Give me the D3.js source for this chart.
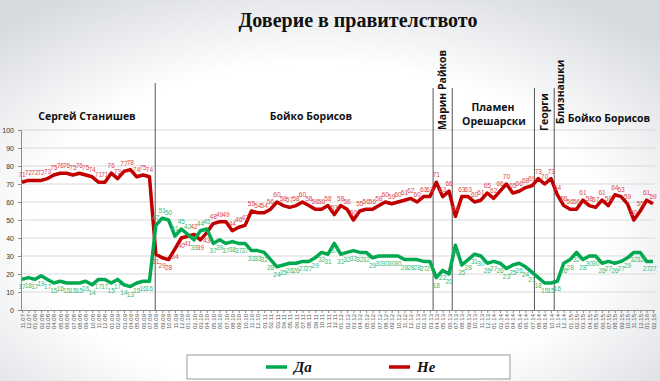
<!DOCTYPE html>
<html><head><meta charset="utf-8">
<script src="https://cdn.jsdelivr.net/npm/d3@7"></script>
<style>body{margin:0;background:#fff}svg{display:block}</style>
</head><body>
<svg id="c" width="660" height="381"></svg>
<script>
const chartTitle = "Доверие в правителството";
const seriesNames = ["Да", "Не"];
const months = [
 "11.07","12.07",
 "01.08","02.08","03.08","04.08","05.08","06.08","07.08","08.08","09.08","10.08","11.08","12.08",
 "01.09","02.09","03.09","04.09","05.09","06.09","07.09","08.09","09.09","10.09","11.09","12.09",
 "01.10","02.10","03.10","04.10","05.10","06.10","07.10","08.10","09.10","10.10","11.10","12.10",
 "01.11","02.11","03.11","04.11","05.11","06.11","07.11","08.11","09.11","10.11","11.11","12.11",
 "01.12","02.12","03.12","04.12","05.12","06.12","07.12","08.12","09.12","10.12","11.12","12.12",
 "01.13","02.13","03.13","04.13","05.13","06.13","07.13","08.13","09.13","10.13","11.13","12.13",
 "01.14","02.14","03.14","04.14","05.14","06.14","07.14","08.14","09.14","10.14","11.14","12.14",
 "01.15","02.15","03.15","04.15","05.15","06.15","07.15","08.15","09.15","10.15","11.15","12.15",
 "01.16","02.16"
];
const yesValues = [
 17,18,17,19,17,15,16,15,15,15,16,14,17,17,15,17,14,13,15,16,16,
 47,51,50,41,45,42,39,44,45,37,39,37,38,37,37,33,33,32,28,24,25,26,26,27,27,29,32,31,37,31,32,33,32,32,29,30,30,30,30,28,28,28,27,27,
 18,22,20,
 36,25,28,31,30,26,27,26,23,25,26,24,21,
 18,15,15,
 16,26,28,32,28,30,30,26,27,26,27,29,32,32,27,27
];
const noValues = [
 71,72,72,72,73,75,76,76,75,76,75,74,71,71,76,73,77,78,74,75,74,
 31,29,28,34,40,41,42,39,43,48,49,49,44,46,47,55,54,54,56,60,58,57,58,60,58,56,56,58,53,58,56,50,55,56,56,58,60,59,60,61,62,60,63,63,
 71,63,66,
 52,63,63,60,61,65,62,66,70,65,66,68,69,
 73,70,73,
 64,58,56,56,61,58,57,61,58,64,63,59,50,55,61,59
];
const yTicks = [0,10,20,30,40,50,60,70,80,90,100];
const dividerPositions = [20.9, 64.5, 67.5, 80.4, 83.5];
const leaderLabels = ["Сергей Станишев", "Бойко Борисов", "Марин Райков", "Пламен", "Орешарски", "Георги", "Близнашки", "Бойко Борисов"];

const GREEN = "#00a94f", RED = "#c00000";
const svg = d3.select("#c");
const defs = svg.append("defs");
const rg = defs.append("radialGradient").attr("id","bg").attr("cx","48%").attr("cy","60%").attr("r","72%");
rg.append("stop").attr("offset","60%").attr("stop-color","#ffffff");
rg.append("stop").attr("offset","100%").attr("stop-color","#d6d9de");
svg.append("rect").attr("width",660).attr("height",381).attr("fill","url(#bg)");

const x = d3.scaleLinear().domain([0, months.length - 1]).range([22, 653]);
const y = d3.scaleLinear().domain([0, 100]).range([310, 130]);

// grid
svg.append("g").selectAll("line").data(yTicks.filter(v => v > 0)).join("line")
  .attr("x1", 21).attr("x2", 655).attr("y1", d => y(d)).attr("y2", d => y(d))
  .attr("stroke", "#d9d9d9").attr("stroke-width", 1);

// y axis
const ya = svg.append("g").attr("transform", "translate(21,0)")
  .call(d3.axisLeft(y).tickValues(yTicks).tickSize(3).tickPadding(4));
ya.select(".domain").attr("stroke", "#8c8c8c");
ya.selectAll(".tick line").attr("stroke", "#8c8c8c");
ya.selectAll("text").attr("font-family", "Arial, 'Liberation Sans', sans-serif").attr("font-size", 7).attr("fill", "#333");

// x axis
const xa = svg.append("g").attr("transform", "translate(0,310)")
  .call(d3.axisBottom(x).tickValues(d3.range(months.length)).tickFormat(i => months[i]).tickSize(3).tickSizeOuter(0));
xa.select(".domain").attr("stroke", "#8c8c8c").attr("d", "M21,0.5H655");
xa.selectAll(".tick line").attr("stroke", "#8c8c8c");
xa.selectAll("text").attr("font-family", "Arial, 'Liberation Sans', sans-serif").attr("font-size", 6)
  .attr("fill", "#555").attr("transform", "rotate(-90)").attr("text-anchor", "end")
  .attr("x", -4).attr("y", 0).attr("dy", "0.35em");

// dividers
svg.append("g").selectAll("line").data(dividerPositions).join("line")
  .attr("x1", d => x(d)).attr("x2", d => x(d))
  .attr("y1", (d, i) => i === 0 ? 83 : 88).attr("y2", 310)
  .attr("stroke", "#555").attr("stroke-width", 1);

// leader labels
const lf = "'Open Sans', 'DejaVu Sans', sans-serif";
const lg = svg.append("g").attr("font-family", lf).attr("font-weight", 700).attr("font-size", 10.5).attr("fill", "#111");
lg.append("text").attr("x", 87).attr("y", 120).attr("text-anchor", "middle").text(leaderLabels[0]);
lg.append("text").attr("x", 311).attr("y", 120).attr("text-anchor", "middle").text(leaderLabels[1]);
lg.append("text").attr("transform", "translate(446,90) rotate(-90)").attr("text-anchor", "middle").text(leaderLabels[2]);
lg.append("text").attr("x", 493).attr("y", 111).attr("text-anchor", "middle").text(leaderLabels[3]);
lg.append("text").attr("x", 494).attr("y", 125).attr("text-anchor", "middle").text(leaderLabels[4]);
lg.append("text").attr("transform", "translate(548,112) rotate(-90)").attr("text-anchor", "middle").text(leaderLabels[5]);
lg.append("text").attr("transform", "translate(564,92) rotate(-90)").attr("text-anchor", "middle").text(leaderLabels[6]);
lg.append("text").attr("x", 609).attr("y", 122).attr("text-anchor", "middle").text(leaderLabels[7]);

// lines
const line = d3.line().x((d, i) => x(i)).y(d => y(d));
svg.append("path").datum(noValues).attr("d", line).attr("fill", "none").attr("stroke", RED)
  .attr("stroke-width", 3.5).attr("stroke-linejoin", "round");
svg.append("path").datum(yesValues).attr("d", line).attr("fill", "none").attr("stroke", GREEN)
  .attr("stroke-width", 3.5).attr("stroke-linejoin", "round");

// data labels
const df = "Arial, 'Liberation Sans', sans-serif";
svg.append("g").selectAll("text").data(noValues).join("text")
  .attr("x", (d, i) => x(i)).attr("y", (d, i) => d >= yesValues[i] ? y(d) - 5 : y(d) + 10).attr("text-anchor", "middle")
  .attr("font-family", df).attr("font-size", 6.5).attr("fill", "#e0474c").text(d => d);
svg.append("g").selectAll("text").data(yesValues).join("text")
  .attr("x", (d, i) => x(i)).attr("y", (d, i) => d > noValues[i] ? y(d) - 5 : y(d) + 10).attr("text-anchor", "middle")
  .attr("font-family", df).attr("font-size", 6.5).attr("fill", "#3db873").text(d => d);

// title
svg.append("text").attr("x", 358).attr("y", 27).attr("text-anchor", "middle")
  .attr("font-family", "'Liberation Serif', 'Times New Roman', serif").attr("font-weight", 700)
  .attr("font-size", 20).attr("fill", "#111").text(chartTitle);

// legend
const leg = svg.append("g");
leg.append("rect").attr("x", 187).attr("y", 355).attr("width", 323).attr("height", 24)
  .attr("fill", "#fff").attr("stroke", "#9a9a9a");
[[GREEN, 266, seriesNames[0]], [RED, 389, seriesNames[1]]].forEach(([c, lx, t]) => {
  leg.append("line").attr("x1", lx).attr("x2", lx + 21).attr("y1", 367).attr("y2", 367)
    .attr("stroke", c).attr("stroke-width", 3.5);
  leg.append("text").attr("x", lx + 28).attr("y", 372)
    .attr("font-family", "'Liberation Serif', 'Times New Roman', serif").attr("font-weight", 700)
    .attr("font-style", "italic").attr("font-size", 15).attr("fill", "#111").text(t);
});
</script>
</body></html>
